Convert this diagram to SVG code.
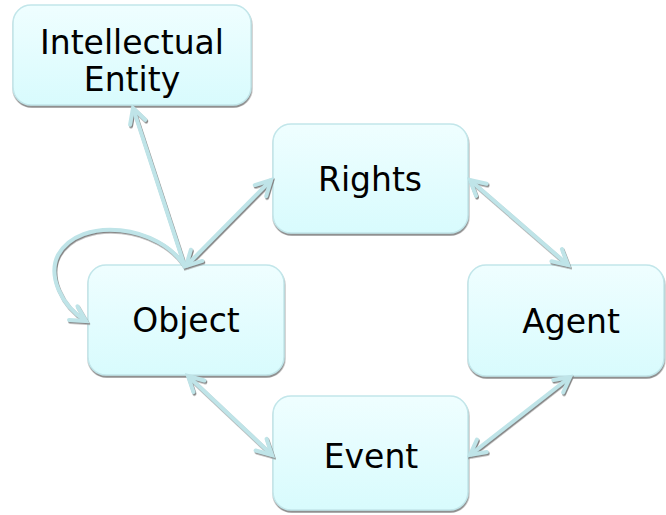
<svg xmlns="http://www.w3.org/2000/svg" width="666" height="515" viewBox="0 0 666 515">
  <defs>
    <linearGradient id="boxFill" x1="0" y1="0" x2="0" y2="1">
      <stop offset="0" stop-color="#effeff"/>
      <stop offset="1" stop-color="#d8fbfd"/>
    </linearGradient>
    <filter id="boxShadow" x="-10%" y="-10%" width="120%" height="125%">
      <feDropShadow dx="0.5" dy="2" stdDeviation="0.6" flood-color="#8a8a8a" flood-opacity="0.95"/>
    </filter>
    <filter id="lineShadow" x="-10%" y="-10%" width="120%" height="120%">
      <feDropShadow dx="1" dy="1.5" stdDeviation="0.4" flood-color="#858585" flood-opacity="1"/>
    </filter>
    <marker id="head" viewBox="-20 -11 24 22" refX="0" refY="0" markerWidth="24" markerHeight="22" markerUnits="userSpaceOnUse" orient="auto-start-reverse">
      <path d="M-15,-8 L0,0 L-15,8" fill="none" stroke="#bfe4e8" stroke-width="4" stroke-linejoin="miter" stroke-linecap="round"/>
    </marker>
  </defs>
  <style>
    .box { fill: url(#boxFill); stroke: #c2e6ea; stroke-width: 1.5; filter: url(#boxShadow); }
    .label { font-family: "DejaVu Sans", Verdana, sans-serif; font-size: 33px; fill: #000; text-anchor: middle; }
    .link { fill: none; stroke: #bfe4e8; stroke-width: 4; stroke-linecap: butt; }
    .both { marker-start: url(#head); marker-end: url(#head); }
    .one { marker-end: url(#head); }
  </style>

  <g id="intellectual-entity">
    <rect class="box" x="13" y="5" width="238" height="100" rx="18"/>
    <text class="label" x="132" y="54">Intellectual</text>
    <text class="label" x="132" y="91">Entity</text>
  </g>
  <g id="rights">
    <rect class="box" x="273" y="124" width="195" height="109" rx="18"/>
    <text class="label" x="370" y="191">Rights</text>
  </g>
  <g id="object">
    <rect class="box" x="88" y="265" width="196" height="110" rx="18"/>
    <text class="label" x="186" y="332">Object</text>
  </g>
  <g id="agent">
    <rect class="box" x="468" y="265" width="196" height="111" rx="18"/>
    <text class="label" x="571" y="333">Agent</text>
  </g>
  <g id="event">
    <rect class="box" x="273" y="396" width="195" height="114" rx="18"/>
    <text class="label" x="371" y="468">Event</text>
  </g>

  <g id="connectors" filter="url(#lineShadow)">
    <!-- Object to Intellectual Entity -->
    <line class="link one" x1="185" y1="267" x2="133" y2="108"/>
    <!-- Object self relation -->
    <path class="link one" d="M185,267 C160,225 80,215 58,255 C48,275 60,305 86,321"/>
    <!-- Object and Rights -->
    <line class="link both" x1="186" y1="266" x2="271" y2="180"/>
    <!-- Rights and Agent -->
    <line class="link both" x1="470" y1="180" x2="568" y2="265"/>
    <!-- Object and Event -->
    <line class="link both" x1="188" y1="376" x2="272" y2="455"/>
    <!-- Agent and Event -->
    <line class="link both" x1="570" y1="377" x2="470" y2="455"/>
  </g>
</svg>
